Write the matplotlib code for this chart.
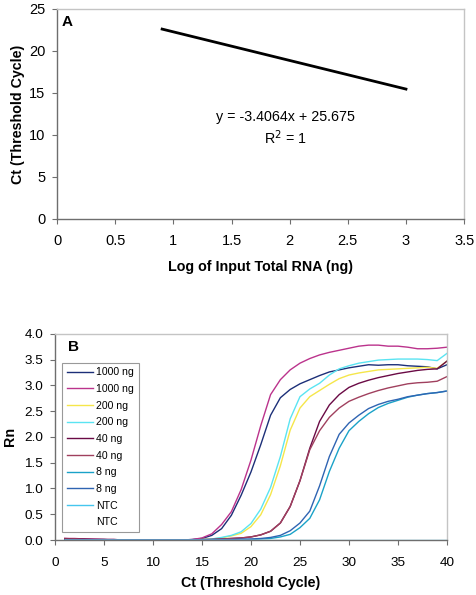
import matplotlib
matplotlib.use("Agg")
import matplotlib.pyplot as plt
from matplotlib.ticker import FormatStrFormatter

plt.rcParams["font.family"] = ["Liberation Sans", "DejaVu Sans"]

# panel A: standard curve
log_rna = [0.903, 1.602, 2.301, 3.0]
ct_values = [22.60, 20.22, 17.84, 15.46]
fit_text = "y = -3.4064x + 25.675"
r2_text = "R$^2$ = 1"

# panel B: amplification plots, Rn per cycle
cycles = list(range(1, 41))

rn_1000_a = [0.02, 0.02, 0.01, 0.01, 0.01, 0, 0, 0, 0, 0,
             0, 0, 0, 0.01, 0.03, 0.09, 0.22, 0.48, 0.87, 1.32,
             1.85, 2.42, 2.76, 2.92, 3.03, 3.11, 3.19, 3.26, 3.30, 3.34,
             3.37, 3.40, 3.39, 3.40, 3.40, 3.38, 3.37, 3.36, 3.32, 3.40]
rn_1000_b = [0.03, 0.03, 0.02, 0.02, 0.01, 0.01, 0, 0, 0, 0,
             0, 0, 0, 0.01, 0.04, 0.12, 0.30, 0.55, 0.98, 1.55,
             2.22, 2.82, 3.11, 3.30, 3.43, 3.52, 3.59, 3.64, 3.68, 3.72,
             3.76, 3.78, 3.78, 3.76, 3.76, 3.74, 3.71, 3.71, 3.72, 3.74]
rn_200_a = [0, 0, 0, 0, 0, 0, 0, 0, 0, 0,
            0, 0, 0, 0, 0.01, 0.02, 0.04, 0.08, 0.13, 0.26,
            0.49, 0.88, 1.44, 2.13, 2.56, 2.78, 2.90, 3.02, 3.13, 3.20,
            3.24, 3.27, 3.30, 3.31, 3.32, 3.33, 3.34, 3.35, 3.33, 3.47]
rn_200_b = [0, 0, 0, 0, 0, 0, 0, 0, 0, 0,
            0, 0, 0, 0, 0.01, 0.02, 0.05, 0.09, 0.16, 0.32,
            0.60, 1.02, 1.62, 2.35, 2.78, 2.93, 3.04, 3.20, 3.32, 3.38,
            3.43, 3.46, 3.49, 3.50, 3.51, 3.51, 3.51, 3.50, 3.48, 3.62]
rn_40_a = [0.03, 0.02, 0.02, 0.01, 0.01, 0.01, 0, 0, 0, 0,
           0, 0, 0, 0, 0.01, 0.01, 0.02, 0.03, 0.04, 0.06,
           0.10, 0.17, 0.33, 0.65, 1.15, 1.78, 2.30, 2.62, 2.82, 2.96,
           3.04, 3.10, 3.15, 3.19, 3.23, 3.26, 3.29, 3.31, 3.32, 3.47]
rn_40_b = [0.02, 0.02, 0.01, 0.01, 0.01, 0, 0, 0, 0, 0,
           0, 0, 0, 0, 0.01, 0.01, 0.02, 0.03, 0.04, 0.06,
           0.10, 0.17, 0.33, 0.65, 1.15, 1.75, 2.12, 2.38, 2.56, 2.69,
           2.77, 2.84, 2.90, 2.95, 2.99, 3.03, 3.05, 3.06, 3.08, 3.17]
rn_8_a = [0, 0, 0, 0, 0, 0, 0, 0, 0, 0,
          0, 0, 0, 0, 0, 0, 0, 0, 0, 0.01,
          0.02, 0.03, 0.06, 0.11, 0.24, 0.42, 0.78, 1.33, 1.78, 2.12,
          2.30, 2.45, 2.57, 2.65, 2.71, 2.77, 2.81, 2.84, 2.86, 2.89]
rn_8_b = [0, 0, 0, 0, 0, 0, 0, 0, 0, 0,
          0, 0, 0, 0, 0, 0.01, 0.01, 0.01, 0.02, 0.02,
          0.03, 0.05, 0.09, 0.18, 0.33, 0.56, 1.05, 1.62, 2.05, 2.27,
          2.42, 2.55, 2.63, 2.69, 2.73, 2.78, 2.81, 2.84, 2.86, 2.89]
rn_ntc_a = [0] * 40
rn_ntc_b = [0] * 40

series = [rn_1000_a, rn_1000_b, rn_200_a, rn_200_b, rn_40_a,
          rn_40_b, rn_8_a, rn_8_b, rn_ntc_a, rn_ntc_b]
labels = ["1000 ng", "1000 ng", "200 ng", "200 ng", "40 ng",
          "40 ng", "8 ng", "8 ng", "NTC", "NTC"]
colors = ["#1c2f78", "#bb338c", "#f5e64a", "#5ae4f2", "#6a0a45",
          "#a0405e", "#1aa2c8", "#2f64b2", "#45c6ee", "#ffffff"]


def style_axes(ax, size, xpad):
    for side in ["top", "right"]:
        ax.spines[side].set_color("#c4c4c4")
    for side in ["left", "bottom"]:
        ax.spines[side].set_color("#6e6e6e")
    for side in ax.spines:
        ax.spines[side].set_linewidth(1.0)
    ax.tick_params(
        direction="out",
        length=3.5,
        width=0.8,
        color="#6e6e6e",
        labelsize=size,
        pad=5
    )
    ax.tick_params(axis="x", pad=xpad)


fig = plt.figure(figsize=(4.76, 5.95), dpi=100)

ax_a = fig.add_axes([0.120, 0.632, 0.855, 0.353])
ax_a.plot(log_rna, ct_values, color="black", linewidth=2.0)
ax_a.set_xlim(0, 3.5)
ax_a.set_ylim(0, 25)
ax_a.set_xticks([0, 0.5, 1, 1.5, 2, 2.5, 3, 3.5])
ax_a.set_xticklabels(["0", "0.5", "1", "1.5", "2", "2.5", "3", "3.5"])
ax_a.set_yticks([0, 5, 10, 15, 20, 25])
style_axes(ax_a, 10.5, 7.2)
ax_a.set_xlabel("Log of Input Total RNA (ng)", fontsize=10.3, fontweight="bold", labelpad=8.5)
ax_a.set_ylabel("Ct (Threshold Cycle)", fontsize=10.3, fontweight="bold", labelpad=3)
ax_a.text(1.96, 12.1, fit_text, fontsize=10.3, ha="center", va="center")
ax_a.text(1.96, 9.7, r2_text, fontsize=10.3, ha="center", va="center")
ax_a.text(0.01, 0.94, "A", transform=ax_a.transAxes, fontsize=11,
          fontweight="bold", va="center")

ax_b = fig.add_axes([0.1155, 0.0924, 0.8235, 0.3466])
for values, label, color in zip(series, labels, colors):
    ax_b.plot(cycles, values, color=color, linewidth=1.0, label=label)
ax_b.set_xlim(0, 40)
ax_b.set_ylim(0, 4.0)
ax_b.set_xticks(range(0, 41, 5))
ax_b.set_yticks([0, 0.5, 1.0, 1.5, 2.0, 2.5, 3.0, 3.5, 4.0])
ax_b.yaxis.set_major_formatter(FormatStrFormatter("%.1f"))
style_axes(ax_b, 9.7, 8.6)
ax_b.set_xlabel("Ct (Threshold Cycle)", fontsize=10.3, fontweight="bold", labelpad=5.5)
ax_b.set_ylabel("Rn", fontsize=10.3, fontweight="bold", labelpad=5)
ax_b.text(0.034, 0.937, "B", transform=ax_b.transAxes, fontsize=11,
          fontweight="bold", va="center")

leg = ax_b.legend(
    loc="upper left",
    bbox_to_anchor=(0.018, 0.86),
    fontsize=7.6,
    frameon=True,
    fancybox=False,
    edgecolor="#808080",
    handlelength=2.5,
    handletextpad=0.3,
    labelspacing=0.63,
    borderpad=0.45,
    borderaxespad=0
)
leg.get_frame().set_linewidth(0.8)

fig.savefig("out.png", dpi=100)
plt.close(fig)
